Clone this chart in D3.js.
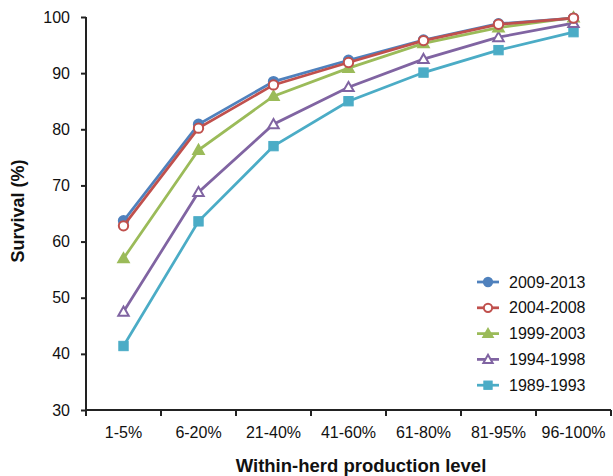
<!DOCTYPE html>
<html><head><meta charset="utf-8">
<script src="https://cdn.jsdelivr.net/npm/d3@7/dist/d3.min.js"></script>
<style>body{margin:0;background:#fff}svg{display:block}</style>
</head><body>
<svg id="c" width="613" height="476"></svg>
<script>
const categories = ["1-5%","6-20%","21-40%","41-60%","61-80%","81-95%","96-100%"];
const seriesNames = ["2009-2013","2004-2008","1999-2003","1994-1998","1989-1993"];
const s2009 = [63.7, 80.9, 88.5, 92.3, 95.9, 98.8, 99.8];
const s2004 = [62.8, 80.2, 87.9, 91.9, 95.8, 98.7, 99.8];
const s1999 = [57.0, 76.3, 85.9, 90.9, 95.3, 98.1, 99.9];
const s1994 = [47.5, 68.8, 80.9, 87.5, 92.5, 96.4, 98.9];
const s1989 = [41.4, 63.6, 77.0, 85.0, 90.1, 94.1, 97.3];
const yTicks = [30,40,50,60,70,80,90,100];

const series = [
  {name: seriesNames[0], values: s2009, color: "#4F81BD", marker: "circle", fill: true},
  {name: seriesNames[1], values: s2004, color: "#C0504D", marker: "circle", fill: false},
  {name: seriesNames[2], values: s1999, color: "#9BBB59", marker: "triangle", fill: true},
  {name: seriesNames[3], values: s1994, color: "#8064A2", marker: "triangle", fill: false},
  {name: seriesNames[4], values: s1989, color: "#4BACC6", marker: "square", fill: true}
];

const svg = d3.select("#c");
const font = "Liberation Sans, Arial, sans-serif";
const x = d3.scaleBand().domain(categories).range([86, 611]);
const y = d3.scaleLinear().domain([30, 100]).range([410, 17]);

// axes
const gy = svg.append("g").attr("transform", "translate(86,0)")
  .call(d3.axisLeft(y).tickValues(yTicks).tickSize(5).tickPadding(11));
const gx = svg.append("g").attr("transform", "translate(0,410)")
  .call(d3.axisBottom(x).tickSize(0).tickPadding(17));
// category boundary ticks
const bounds = categories.map(c => x(c)).concat([x.range()[1]]);
svg.append("g").selectAll("line").data(bounds).join("line")
  .attr("x1", d => d).attr("x2", d => d).attr("y1", 410).attr("y2", 416)
  .attr("stroke", "#222").attr("stroke-width", 2);

[gy, gx].forEach(g => {
  g.select(".domain").attr("stroke", "#222").attr("stroke-width", 2);
  g.selectAll(".tick line").attr("stroke", "#222").attr("stroke-width", 2);
  g.selectAll("text").attr("font-family", font).attr("font-size", 16).attr("fill", "#111");
});
gy.select(".domain").attr("d", "M0,17V410");
gx.select(".domain").attr("d", "M86,0H611");

// titles
svg.append("text").attr("transform", "translate(24,211) rotate(-90)")
  .attr("text-anchor", "middle").attr("font-family", font).attr("font-weight", "bold")
  .attr("font-size", 18).attr("fill", "#111").text("Survival (%)");
svg.append("text").attr("x", 361).attr("y", 472)
  .attr("text-anchor", "middle").attr("font-family", font).attr("font-weight", "bold")
  .attr("font-size", 18.5).attr("fill", "#111").text("Within-herd production level");

const line = d3.line().x((d, i) => x(categories[i]) + x.bandwidth() / 2).y(d => y(d));

function drawMarker(g, s, cx, cy, size) {
  const fill = s.fill ? s.color : "#fff";
  if (s.marker === "circle") {
    g.append("circle").attr("cx", cx).attr("cy", cy).attr("r", size * 0.52)
      .attr("fill", fill).attr("stroke", s.color).attr("stroke-width", 2);
  } else if (s.marker === "triangle") {
    const r = size * 0.58;
    g.append("path").attr("d", `M${cx},${cy - r}L${cx + r},${cy + r * 0.75}L${cx - r},${cy + r * 0.75}Z`)
      .attr("fill", fill).attr("stroke", s.color).attr("stroke-width", 2);
  } else {
    const h = size * 0.52;
    g.append("rect").attr("x", cx - h).attr("y", cy - h).attr("width", 2 * h).attr("height", 2 * h)
      .attr("fill", fill).attr("stroke", s.color).attr("stroke-width", 1);
  }
}

// draw order: red over blue as in reference
const order = [4, 3, 2, 0, 1];
order.forEach(k => {
  const s = series[k];
  const g = svg.append("g");
  g.append("path").datum(s.values).attr("d", line).attr("fill", "none")
    .attr("stroke", s.color).attr("stroke-width", 2.75);
  s.values.forEach((v, i) => drawMarker(g, s, x(categories[i]) + x.bandwidth() / 2, y(v), 9));
});

// legend
const lg = svg.append("g");
series.forEach((s, i) => {
  const ly = 282 + i * 25.8;
  lg.append("line").attr("x1", 477).attr("x2", 499).attr("y1", ly).attr("y2", ly)
    .attr("stroke", s.color).attr("stroke-width", 2.75);
  drawMarker(lg, s, 488, ly, 8);
  lg.append("text").attr("x", 509).attr("y", ly).attr("dy", "0.35em")
    .attr("font-family", font).attr("font-size", 16).attr("fill", "#111").text(s.name);
});
</script>
</body></html>
